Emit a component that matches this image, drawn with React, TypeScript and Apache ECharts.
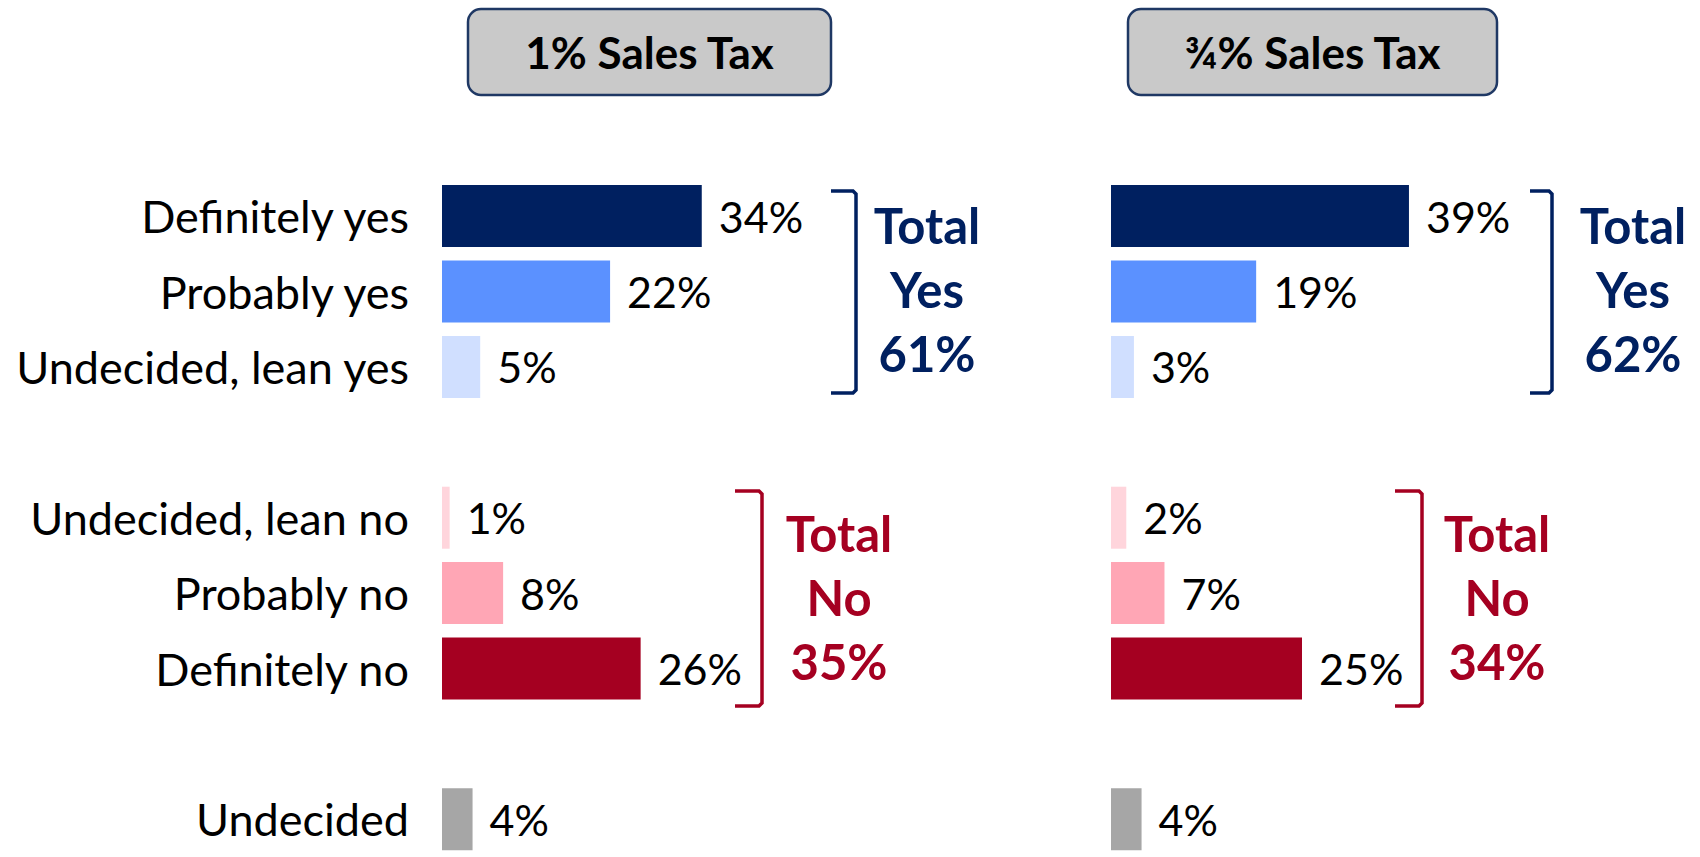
import React, { useEffect, useRef } from "react";
import * as echarts from "echarts";

const categories = [
  "Definitely yes",
  "Probably yes",
  "Undecided, lean yes",
  "",
  "Undecided, lean no",
  "Probably no",
  "Definitely no",
  " ",
  "Undecided",
];
const onePercentValues = [34, 22, 5, null, 1, 8, 26, null, 4];
const threeQuarterValues = [39, 19, 3, null, 2, 7, 25, null, 4];
const barColors = [
  "#002060",
  "#5B91FF",
  "#D0DFFF",
  "transparent",
  "#FFD5DC",
  "#FFA6B5",
  "#A50021",
  "transparent",
  "#A6A6A6",
];
const panelTitles = ["1% Sales Tax", "¾% Sales Tax"];
const totalYes = [61, 62];
const totalNo = [35, 34];

const FONT = "Lato, 'Noto Sans', sans-serif";
const NAVY = "#002060";
const RED = "#A50021";

function barSeries(values: (number | null)[], idx: number) {
  return {
    type: "bar",
    xAxisIndex: idx,
    yAxisIndex: idx,
    barWidth: 62,
    data: values.map((v, i) =>
      v == null ? "-" : { value: v, itemStyle: { color: barColors[i] } }
    ),
    label: {
      show: true,
      position: "right",
      distance: 17,
      formatter: (p: any) => `${p.value}%`,
      fontSize: 43,
      fontFamily: FONT,
      color: "#000",
    },
  };
}

function bracket(xv: number, xh: number, y0: number, y1: number, color: string) {
  return {
    type: "polyline",
    shape: {
      points: [
        [xh, y0],
        [xv - 3, y0],
        [xv, y0 + 3],
        [xv, y1 - 3],
        [xv - 3, y1],
        [xh, y1],
      ],
    },
    style: { stroke: color, lineWidth: 3.5, fill: null },
  };
}

function totalText(cx: number, cy: number, word: string, val: number, color: string) {
  return {
    type: "text",
    x: cx,
    y: cy,
    style: {
      text: `Total\n${word}\n${val}%`,
      font: `bold 49px ${FONT}`,
      fill: color,
      align: "center",
      verticalAlign: "middle",
      textAlign: "center",
      textVerticalAlign: "middle",
      lineHeight: 64,
    },
  };
}

function titleBox(x0: number, x1: number, text: string) {
  return [
    {
      type: "rect",
      shape: { x: x0, y: 9, width: x1 - x0, height: 86, r: 13 },
      style: { fill: "#C9C9C9", stroke: "#1F3864", lineWidth: 2.5 },
    },
    {
      type: "text",
      x: (x0 + x1) / 2,
      y: 52,
      style: {
        text,
        font: `bold 44px ${FONT}`,
        fill: "#000",
        align: "center",
        verticalAlign: "middle",
        textAlign: "center",
        textVerticalAlign: "middle",
      },
    },
  ];
}

export default function App() {
  const ref = useRef<HTMLDivElement>(null);
  useEffect(() => {
    if (!ref.current) return;
    const chart = echarts.init(ref.current, undefined, { renderer: "svg" });
    const gridTop = 178.4;
    const gridHeight = 681.3;
    const option: any = {
      animation: false,
      grid: [
        { left: 442, top: gridTop, width: 382, height: gridHeight },
        { left: 1111, top: gridTop, width: 382, height: gridHeight },
      ],
      xAxis: [0, 1].map((i) => ({
        gridIndex: i,
        type: "value",
        min: 0,
        max: 50,
        show: false,
        splitLine: { show: false },
      })),
      yAxis: [0, 1].map((i) => ({
        gridIndex: i,
        type: "category",
        data: categories,
        inverse: true,
        axisLine: { show: false },
        axisTick: { show: false },
        splitLine: { show: false },
        axisLabel: {
          show: i === 0,
          margin: 33,
          fontSize: 45,
          fontFamily: FONT,
          color: "#000",
          verticalAlign: "middle",
          padding: [0, 0, 7, 0],
        },
      })),
      series: [barSeries(onePercentValues, 0), barSeries(threeQuarterValues, 1)],
      graphic: [
        ...titleBox(468, 831, panelTitles[0]),
        ...titleBox(1128, 1497, panelTitles[1]),
        bracket(856, 831, 191, 393, NAVY),
        bracket(1552, 1530, 191, 393, NAVY),
        bracket(762, 735, 491, 706, RED),
        bracket(1422, 1395, 491, 706, RED),
        totalText(927, 289, "Yes", totalYes[0], NAVY),
        totalText(1633, 289, "Yes", totalYes[1], NAVY),
        totalText(839, 597, "No", totalNo[0], RED),
        totalText(1497, 597, "No", totalNo[1], RED),
      ],
    };
    chart.setOption(option);
    return () => chart.dispose();
  }, []);
  return (
    <div
      ref={ref}
      style={{ position: "absolute", left: 0, top: 0, width: 1700, height: 857, background: "#fff" }}
    />
  );
}
